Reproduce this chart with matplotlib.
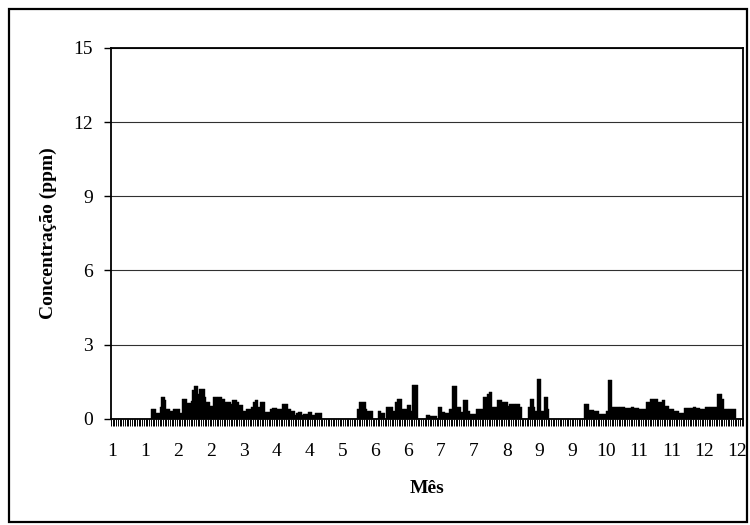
import matplotlib
matplotlib.use("Agg")
import matplotlib.pyplot as plt
from matplotlib.patches import Rectangle
from matplotlib.ticker import FixedLocator, FixedFormatter

plt.rcParams["font.family"] = ["Liberation Serif", "DejaVu Serif"]

# daily concentration (ppm), one value per day of the year
DAILY_CONC = [
	# 0-19
	0, 0, 0, 0, 0, 0, 0, 0, 0, 0, 0, 0, 0, 0, 0, 0, 0, 0, 0, 0,
	# 20-39
	0, 0, 0, 0.41, 0.41, 0.41, 0.23, 0.23, 0.5, 0.88, 0.88, 0.75, 0.41, 0.41, 0.34, 0.34, 0.41, 0.41, 0.41, 0.41,
	# 40-59
	0.23, 0.82, 0.82, 0.82, 0.64, 0.64, 0.72, 1.16, 1.32, 1.32, 1.02, 1.22, 1.22, 1.22, 0.88, 0.68, 0.68, 0.54, 0.54, 0.88,
	# 60-79
	0.88, 0.9, 0.9, 0.9, 0.82, 0.82, 0.7, 0.7, 0.7, 0.6, 0.75, 0.75, 0.75, 0.68, 0.56, 0.56, 0.34, 0.34, 0.41, 0.41,
	# 80-99
	0.41, 0.48, 0.68, 0.75, 0.75, 0.48, 0.68, 0.68, 0.68, 0.27, 0.27, 0.27, 0.41, 0.44, 0.44, 0.44, 0.41, 0.41, 0.41, 0.59,
	# 100-119
	0.59, 0.59, 0.41, 0.41, 0.34, 0.34, 0.14, 0.23, 0.27, 0.27, 0.14, 0.18, 0.18, 0.18, 0.27, 0.27, 0.14, 0.14, 0.25, 0.25,
	# 120-139
	0.25, 0.25, 0, 0, 0, 0, 0, 0, 0, 0, 0, 0, 0, 0, 0, 0, 0, 0, 0, 0,
	# 140-159
	0, 0, 0.41, 0.68, 0.68, 0.68, 0.68, 0.41, 0.34, 0.34, 0.34, 0, 0, 0, 0.34, 0.34, 0.23, 0.23, 0, 0.5,
	# 160-179
	0.5, 0.5, 0.5, 0.31, 0.68, 0.82, 0.82, 0.82, 0.41, 0.41, 0.41, 0.57, 0.57, 0.34, 1.39, 1.39, 1.39, 0, 0, 0,
	# 180-199
	0, 0, 0.16, 0.16, 0.1, 0.1, 0.1, 0.1, 0, 0.5, 0.5, 0.27, 0.27, 0.23, 0.23, 0.41, 0.41, 1.32, 1.32, 1.32,
	# 200-219
	0.5, 0.5, 0.27, 0.75, 0.75, 0.75, 0.34, 0.18, 0.18, 0.18, 0.18, 0.41, 0.41, 0.41, 0.41, 0.88, 0.88, 0.99, 1.09, 1.09,
	# 220-239
	0.48, 0.48, 0.5, 0.75, 0.75, 0.75, 0.68, 0.68, 0.68, 0.54, 0.59, 0.59, 0.59, 0.59, 0.59, 0.59, 0.48, 0, 0, 0,
	# 240-259
	0, 0.48, 0.82, 0.82, 0.48, 0.34, 1.63, 1.63, 0.34, 0.34, 0.88, 0.88, 0.41, 0, 0, 0, 0, 0, 0, 0,
	# 260-279
	0, 0, 0, 0, 0, 0, 0, 0, 0, 0, 0, 0, 0, 0.59, 0.59, 0.59, 0.38, 0.38, 0.38, 0.34,
	# 280-299
	0.34, 0.34, 0.18, 0.18, 0.18, 0.18, 0.34, 1.56, 1.56, 0.5, 0.5, 0.48, 0.48, 0.48, 0.48, 0.5, 0.5, 0.44, 0.44, 0.44,
	# 300-319
	0.5, 0.5, 0.44, 0.44, 0.44, 0.41, 0.41, 0.41, 0.41, 0.68, 0.68, 0.82, 0.82, 0.82, 0.82, 0.82, 0.68, 0.68, 0.75, 0.75,
	# 320-339
	0.54, 0.54, 0.41, 0.41, 0.41, 0.31, 0.31, 0.31, 0.23, 0.23, 0.23, 0.44, 0.44, 0.44, 0.44, 0.44, 0.5, 0.5, 0.44, 0.44,
	# 340-364
	0.41, 0.41, 0.41, 0.48, 0.5, 0.5, 0.5, 0.5, 0.5, 0.5, 1.02, 1.02, 1.02, 0.82,
	0.41, 0.41, 0.41, 0.41, 0.41, 0.41, 0.41, 0, 0, 0, 0,
]

# month shown under every 19th day
MONTH_LABELS = ["1", "1", "2", "2", "3", "4", "4", "5", "6", "6",
	"7", "7", "8", "9", "9", "10", "11", "11", "12", "12"]
LABEL_STEP = 19

Y_TICKS = [0, 3, 6, 9, 12, 15]

n = len(DAILY_CONC)
x = list(range(n))

fig = plt.figure(figsize=(7.5, 5.25), dpi=100)
ax = fig.add_axes([0.148, 0.202, 0.843, 0.707])

ax.bar(x, DAILY_CONC, width=1.0, color="black", edgecolor="black", linewidth=0.3)

ax.set_xlim(-0.5, n - 0.5)
ax.set_ylim(0, 15)
ax.set_yticks(Y_TICKS)
ax.grid(axis="y", color="#303030", linewidth=0.8)
ax.set_axisbelow(True)

label_pos = [i * LABEL_STEP for i in range(len(MONTH_LABELS))]
ax.xaxis.set_major_locator(FixedLocator(label_pos))
ax.xaxis.set_major_formatter(FixedFormatter(MONTH_LABELS))
ax.xaxis.set_minor_locator(FixedLocator([i - 0.5 for i in range(n + 1)]))
ax.tick_params(axis="x", which="major", length=0, pad=17, labelsize=14)
ax.tick_params(axis="x", which="minor", length=5, width=0.7, direction="out")
ax.tick_params(axis="y", length=5, width=1, pad=8, labelsize=14)

for side in ax.spines.values():
	side.set_linewidth(1.3)
	side.set_color("black")

ax.set_ylabel("Concentração (ppm)", fontsize=14, fontweight="bold", labelpad=12)
ax.set_xlabel("Mês", fontsize=14, fontweight="bold", labelpad=15)

fig.patches.append(Rectangle((0.012, 0.005), 0.984, 0.978, transform=fig.transFigure,
	fill=False, edgecolor="black", linewidth=1.6))

fig.savefig("out.png", dpi=100)
